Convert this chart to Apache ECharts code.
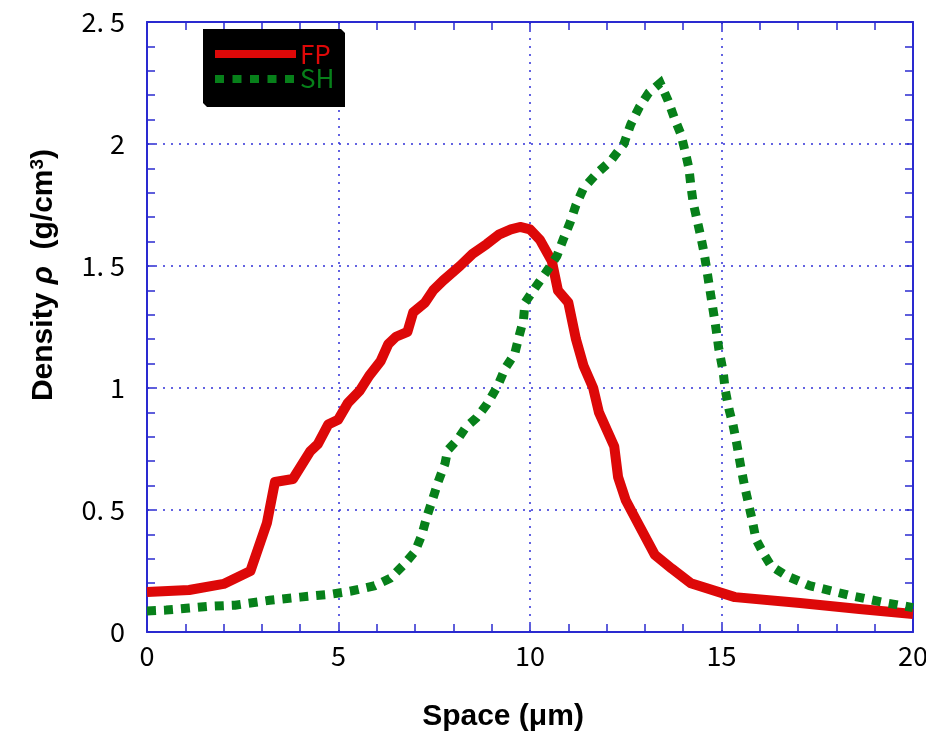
<!DOCTYPE html>
<html><head><meta charset="utf-8">
<script src="https://cdn.jsdelivr.net/npm/echarts@6/dist/echarts.min.js"></script>
<style>html,body{margin:0;padding:0;background:#fff}#c{width:926px;height:738px}</style>
</head><body><div id="c"></div>
<script>
const xTicks = [0, 5, 10, 15, 20];
const yTicks = [0, 0.5, 1, 1.5, 2, 2.5];
const seriesNames = ['FP', 'SH'];
const fpX = [0, 1.1, 2.0, 2.7, 3.13, 3.34, 3.81, 4.26, 4.46, 4.73, 4.99, 5.25, 5.56, 5.8, 6.1, 6.3, 6.5, 6.8, 6.95, 7.26, 7.47, 7.73, 8.17, 8.5, 8.87, 9.2, 9.5, 9.74, 10.0, 10.26, 10.57, 10.73, 11.0, 11.2, 11.4, 11.65, 11.8, 12.2, 12.3, 12.5, 12.77, 13.26, 13.7, 14.2, 15.35, 17.05, 18.6, 20];
const fpY = [0.164, 0.172, 0.197, 0.25, 0.446, 0.615, 0.627, 0.74, 0.77, 0.85, 0.87, 0.94, 0.99, 1.05, 1.11, 1.18, 1.21, 1.23, 1.31, 1.35, 1.40, 1.44, 1.50, 1.55, 1.59, 1.63, 1.65, 1.66, 1.65, 1.607, 1.52, 1.40, 1.35, 1.20, 1.09, 1.0, 0.90, 0.76, 0.635, 0.54, 0.46, 0.316, 0.26, 0.20, 0.143, 0.119, 0.094, 0.074];
const shX = [0, 0.5, 1.1, 1.6, 2.3, 3.2, 4.0, 4.8, 5.3, 5.95, 6.35, 6.7, 7.0, 7.18, 7.3, 7.46, 7.6, 7.78, 7.85, 8.1, 8.33, 8.6, 8.88, 9.16, 9.35, 9.6, 9.71, 9.83, 9.87, 10.13, 10.4, 10.7, 10.87, 11.05, 11.2, 11.4, 11.75, 12.1, 12.45, 12.63, 12.85, 13.1, 13.4, 13.6, 13.76, 13.94, 14.05, 14.15, 14.2, 14.26, 14.36, 14.46, 14.55, 14.62, 14.7, 14.78, 14.86, 14.93, 15.04, 15.1, 15.2, 15.3, 15.4, 15.5, 15.6, 15.7, 15.8, 15.9, 16.1, 16.3, 16.7, 17.3, 18.35, 19.27, 20];
const shY = [0.086, 0.09, 0.098, 0.105, 0.11, 0.13, 0.143, 0.155, 0.167, 0.19, 0.22, 0.275, 0.33, 0.40, 0.47, 0.545, 0.615, 0.69, 0.745, 0.787, 0.84, 0.877, 0.934, 1.01, 1.08, 1.14, 1.21, 1.28, 1.35, 1.41, 1.47, 1.54, 1.61, 1.68, 1.75, 1.82, 1.88, 1.93, 2.0, 2.08, 2.15, 2.21, 2.25, 2.18, 2.11, 2.04, 1.97, 1.90, 1.83, 1.76, 1.69, 1.62, 1.55, 1.48, 1.40, 1.32, 1.24, 1.16, 1.07, 0.99, 0.91, 0.85, 0.77, 0.68, 0.60, 0.53, 0.46, 0.38, 0.32, 0.27, 0.23, 0.19, 0.15, 0.12, 0.10];

const fpData = fpX.map((x, i) => [x, fpY[i]]);
const shData = shX.map((x, i) => [x, shY[i]]);

const blue = '#2a2ad0';
const gridBlue = '#3030d8';
const tickFont = '"Liberation Sans Narrow", "Noto Sans CJK JP", sans-serif';
const fmtY = v => String(v).replace('.', '. ');

function makeAxis(kind, pos, showLabel, showGrid) {
  const isX = kind === 'x';
  const ax = {
    type: 'value',
    position: pos,
    min: isX ? xTicks[0] : yTicks[0],
    max: isX ? xTicks[xTicks.length - 1] : yTicks[yTicks.length - 1],
    interval: isX ? 5 : 0.5,
    axisLine: { show: true, onZero: false, lineStyle: { color: blue, width: 2 } },
    axisTick: { show: true, inside: true, length: 8, lineStyle: { color: blue, width: 1.5 } },
    minorTick: { show: true, splitNumber: 5, length: 8, lineStyle: { color: blue, width: 1.5 } },
    splitLine: { show: showGrid, lineStyle: { color: gridBlue, type: [2, 6], width: 1.5 } },
    axisLabel: { show: showLabel, fontSize: 27, color: '#000', fontFamily: tickFont, margin: isX ? 10 : 22 },
  };
  if (!isX) ax.axisLabel.formatter = fmtY;
  return ax;
}

const chart = echarts.init(document.getElementById('c'), null, { renderer: 'canvas' });
chart.setOption({
  animation: false,
  backgroundColor: '#fff',
  grid: { left: 147, right: 13, top: 22, bottom: 106, containLabel: false, outerBoundsMode: 'none' },
  xAxis: [makeAxis('x', 'bottom', true, true), makeAxis('x', 'top', false, false)],
  yAxis: [makeAxis('y', 'left', true, true), makeAxis('y', 'right', false, false)],
  series: [
    {
      name: seriesNames[0], type: 'line', data: fpData, xAxisIndex: 0, yAxisIndex: 0,
      showSymbol: false, symbol: 'none', z: 3,
      lineStyle: { color: '#dd0808', width: 10, cap: 'butt', join: 'round' },
    },
    {
      name: seriesNames[1], type: 'line', data: shData, xAxisIndex: 0, yAxisIndex: 0,
      showSymbol: false, symbol: 'none', z: 4,
      lineStyle: { color: '#07801a', width: 9, type: [9, 8], cap: 'butt', join: 'miter' },
    },
  ],
  graphic: [
    {
      type: 'polygon', z: 10,
      shape: { points: [[203, 29], [341, 29], [345, 33], [345, 107], [207, 107], [203, 103]] },
      style: { fill: '#000' },
    },
    { type: 'line', z: 11, shape: { x1: 215, y1: 54, x2: 296, y2: 54 }, style: { stroke: '#dd0808', lineWidth: 8 } },
    { type: 'line', z: 11, shape: { x1: 215, y1: 79, x2: 296, y2: 79 }, style: { stroke: '#07801a', lineWidth: 8, lineDash: [9, 8.5] } },
    { type: 'text', z: 11, x: 300, y: 54, style: { text: seriesNames[0], fill: '#dd0808', font: '26px ' + tickFont, verticalAlign: 'middle' } },
    { type: 'text', z: 11, x: 300, y: 78, style: { text: seriesNames[1], fill: '#07801a', font: '26px ' + tickFont, verticalAlign: 'middle' } },
    {
      type: 'text', z: 11, x: 503, y: 717,
      style: { text: 'Space (μm)', fill: '#000', font: 'bold 30px "Liberation Sans", Arial, sans-serif', align: 'center', verticalAlign: 'middle' },
    },
    {
      type: 'text', z: 11, x: 44, y: 275, rotation: Math.PI / 2,
      style: {
        text: '{a|Density }{i|ρ}{a|  (g/cm}{s|3}{a|)}',
        align: 'center', verticalAlign: 'middle',
        rich: {
          a: { fill: '#000', font: 'bold 30px "Liberation Sans", Arial, sans-serif' },
          i: { fill: '#000', font: 'italic bold 30px "Liberation Sans", Arial, sans-serif' },
          s: { fill: '#000', font: 'bold 19px "Liberation Sans", Arial, sans-serif', padding: [0, 0, 12, 0] },
        },
      },
    },
  ],
});
</script>
</body></html>
